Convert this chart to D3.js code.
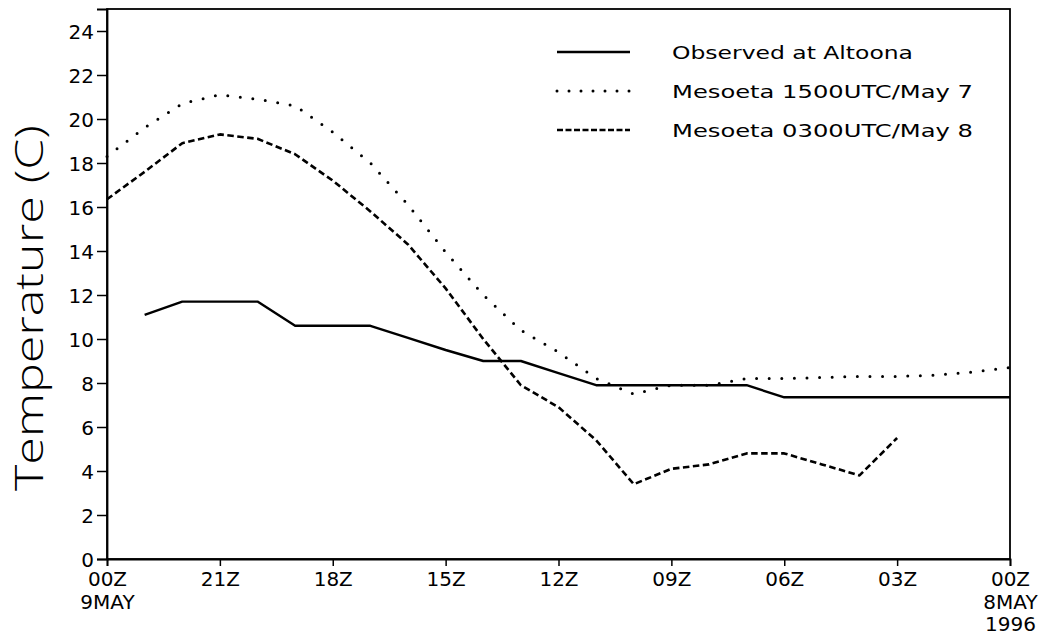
<!DOCTYPE html>
<html>
<head>
<meta charset="utf-8">
<script src="https://cdn.jsdelivr.net/npm/d3@7"></script>
<style>
  body { margin: 0; background: #fff; }
  text { font-family: "DejaVu Sans", sans-serif; fill: #000; }
</style>
</head>
<body>
<div id="chart"></div>
<script>
// hours before 00Z 9 May 1996 (0 = 00Z 9MAY, 24 = 00Z 8MAY)
var obsHours = [1, 2, 3, 4, 5, 6, 7, 8, 9, 10, 11, 12, 13, 14, 15, 16, 17, 18, 19, 20, 21, 22, 23, 24];
var observed = [11.1, 11.7, 11.7, 11.7, 10.6, 10.6, 10.6, 10.05, 9.5, 9.0, 9.0, 8.45, 7.9, 7.9, 7.9, 7.9, 7.9, 7.35, 7.35, 7.35, 7.35, 7.35, 7.35, 7.35];

var run15Hours = [0, 1, 2, 3, 4, 5, 6, 7, 8, 9, 10, 11, 12, 13, 14, 15, 16, 17, 18, 19, 20, 21, 22, 23, 24];
var run15 = [18.3, 19.6, 20.7, 21.1, 20.9, 20.6, 19.4, 18.0, 16.1, 13.95, 12.0, 10.4, 9.4, 8.2, 7.5, 7.9, 7.9, 8.2, 8.2, 8.25, 8.3, 8.3, 8.35, 8.5, 8.7];

var run03Hours = [0, 1, 2, 3, 4, 5, 6, 7, 8, 9, 10, 11, 12, 13, 14, 15, 16, 17, 18, 19, 20, 21];
var run03 = [16.35, 17.6, 18.9, 19.3, 19.1, 18.4, 17.2, 15.8, 14.3, 12.3, 10.0, 7.9, 6.9, 5.4, 3.4, 4.1, 4.3, 4.8, 4.8, 4.3, 3.8, 5.5];

var xTickHours = [0, 3, 6, 9, 12, 15, 18, 21, 24];
var xTickLabels = [["00Z", "9MAY"], ["21Z"], ["18Z"], ["15Z"], ["12Z"], ["09Z"], ["06Z"], ["03Z"], ["00Z", "8MAY", "1996"]];
var yTicks = [0, 2, 4, 6, 8, 10, 12, 14, 16, 18, 20, 22, 24];

var legendLabels = ["Observed at Altoona", "Mesoeta 1500UTC/May 7", "Mesoeta 0300UTC/May 8"];

var W = 1042, H = 637;
var margin = { top: 9, right: 32, bottom: 78, left: 107 };
var width = W - margin.left - margin.right;
var height = H - margin.top - margin.bottom;

var svg = d3.select("#chart").append("svg")
  .attr("width", W)
  .attr("height", H);

var g = svg.append("g")
  .attr("transform", "translate(" + margin.left + "," + margin.top + ")");

var x = d3.scaleLinear().domain([0, 24]).range([0, width]);
var y = d3.scaleLinear().domain([0, 25]).range([height, 0]);

// frame
g.append("rect")
  .attr("width", width)
  .attr("height", height)
  .attr("fill", "none")
  .attr("stroke", "#000")
  .attr("stroke-width", 1.8);

// y axis
var yAxis = g.append("g")
  .call(d3.axisLeft(y).tickValues(yTicks).tickSize(10).tickPadding(3).tickFormat(d3.format("d")));
yAxis.select(".domain").attr("stroke-width", 1.8);
yAxis.selectAll(".tick line").attr("stroke-width", 1.5);
yAxis.selectAll("text")
  .style("font-family", "DejaVu Sans")
  .style("font-size", "20px")
  .attr("dy", "0.36em");

// x axis
var xAxis = g.append("g")
  .attr("transform", "translate(0," + height + ")")
  .call(d3.axisBottom(x).tickValues(xTickHours).tickSize(7).tickFormat(""));
xAxis.select(".domain").attr("stroke-width", 1.8);
xAxis.selectAll(".tick line").attr("stroke-width", 1.5);

xAxis.selectAll(".tick").each(function (d, i) {
  var t = d3.select(this).append("text")
    .attr("text-anchor", "middle")
    .style("font-size", "20px")
    .attr("fill", "#000");
  xTickLabels[i].forEach(function (s, j) {
    t.append("tspan")
      .attr("x", 0)
      .attr("y", 27 + j * 22.5)
      .text(s);
  });
});

// y title
svg.append("text")
  .attr("transform", "translate(43,308) rotate(-90)")
  .attr("text-anchor", "middle")
  .attr("textLength", 366)
  .attr("lengthAdjust", "spacingAndGlyphs")
  .style("font-family", "'Open Sans', 'DejaVu Sans', sans-serif")
  .style("font-weight", 300)
  .style("font-size", "38px")
  .text("Temperature (C)");

// lines
var line = d3.line()
  .x(function (d) { return x(d[0]); })
  .y(function (d) { return y(d[1]); });

var styles = [
  { w: 2.4, dash: null, cap: "butt" },
  { w: 3, dash: "0,12.6", cap: "round" },
  { w: 2.6, dash: "6.5,3.5", cap: "butt" }
];

var series = [
  d3.zip(obsHours, observed),
  d3.zip(run15Hours, run15),
  d3.zip(run03Hours, run03)
];

series.forEach(function (s, i) {
  g.append("path")
    .datum(s)
    .attr("d", line)
    .attr("fill", "none")
    .attr("stroke", "#000")
    .attr("stroke-width", styles[i].w)
    .attr("stroke-linecap", styles[i].cap)
    .attr("stroke-linejoin", "round")
    .attr("stroke-dasharray", styles[i].dash);
});

// legend
var legend = svg.append("g");
var legendY = [52, 91, 130];
var legendW = [241, 301, 301];
legendLabels.forEach(function (label, i) {
  legend.append("line")
    .attr("x1", 557).attr("x2", 630)
    .attr("y1", legendY[i]).attr("y2", legendY[i])
    .attr("stroke", "#000")
    .attr("stroke-width", styles[i].w)
    .attr("stroke-linecap", styles[i].cap)
    .attr("stroke-dasharray", i === 1 ? "0,12" : (i === 2 ? "6,2.5" : null));
  legend.append("text")
    .attr("x", 672)
    .attr("y", legendY[i] + 7)
    .attr("textLength", legendW[i])
    .attr("lengthAdjust", "spacingAndGlyphs")
    .style("font-size", "18px")
    .text(label);
});
</script>
</body>
</html>
